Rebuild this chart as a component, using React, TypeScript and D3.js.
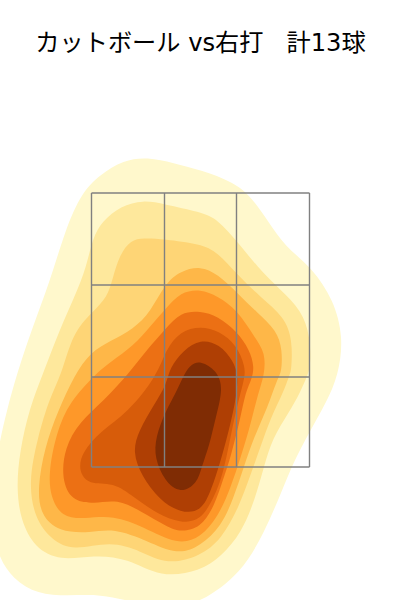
import React from "react";
import * as d3 from "d3";

// Plate-location units: x runs across the zone, y runs up from the bottom of the zone.
const titleText = "カットボール vs右打\u00a0\u00a0\u00a0計13球";
const zoneX = [0, 73, 145, 218];
const zoneY = [0, 90, 182, 274];

const levelColors = ["#fff8cc", "#fee89c", "#fed576", "#feb748", "#fe9829", "#ec7014", "#d75c0a", "#af3f04", "#7f2c04"];

const level1: [number, number][] = [[56,310],[82,304],[109,297],[142,285],[160,270],[177,245],[193,221],[221,199],[242,167],[252,130],[247,92],[235,65],[218,35],[202,5],[190,-25],[173,-65],[150,-106],[109,-136],[74,-144],[42,-135],[9,-127],[-24,-129],[-54,-127],[-78,-113],[-97,-85],[-100,-33],[-94,17],[-84,59],[-75,92],[-59,140],[-42,184],[-26,238],[-10,274],[8,292],[32,307]];
const level2: [number, number][] = [[52,267],[72,263],[109,255],[126,248],[146,225],[166,200],[189,177],[210,157],[219,130],[219,100],[216,92],[209,75],[197,54],[181,29],[172,-1],[164,-31],[150,-66],[130,-89],[109,-104],[69,-111],[36,-91],[2,-88],[-31,-94],[-57,-81],[-71,-53],[-75,-21],[-72,15],[-62,59],[-49,92],[-32,137],[-17,170],[-5,200],[1,229],[11,246],[29,261]];
const level3: [number, number][] = [[52,229],[72,228],[109,223],[126,215],[146,192],[169,170],[193,150],[201,127],[200,97],[198,92],[192,75],[179,49],[169,20],[159,-8],[147,-41],[130,-72],[109,-89],[76,-98],[49,-84],[19,-74],[-18,-84],[-40,-73],[-57,-51],[-63,-15],[-54,29],[-42,69],[-30,92],[-19,134],[1,155],[16,170],[21,188],[28,212],[39,227]];
const level4: [number, number][] = [[89,196],[109,201],[126,193],[146,174],[166,154],[185,137],[191,117],[190,94],[186,89],[176,59],[162,29],[152,-1],[142,-31],[130,-59],[109,-79],[86,-88],[56,-74],[22,-61],[-1,-66],[-33,-65],[-51,-48],[-54,-21],[-47,19],[-34,55],[-17,92],[-1,115],[19,126],[42,138],[59,155],[74,184]];
const level5: [number, number][] = [[89,175],[109,178],[126,171],[146,157],[163,130],[174,114],[173,92],[166,72],[159,42],[149,9],[139,-21],[127,-49],[109,-71],[86,-78],[52,-60],[22,-48],[-8,-52],[-30,-50],[-41,-30],[-43,-5],[-35,35],[-22,65],[4,93],[19,105],[42,121],[59,141],[74,158]];
const level6: [number, number][] = [[89,155],[109,156],[126,151],[146,135],[158,117],[163,100],[160,87],[154,75],[149,49],[139,9],[132,-11],[123,-39],[109,-61],[89,-65],[76,-60],[49,-44],[26,-32],[2,-37],[-20,-34],[-30,-12],[-27,19],[-12,45],[12,66],[37,93],[56,118],[74,138]];
const level7: [number, number][] = [[89,136],[109,141],[128,136],[145,122],[154,100],[153,88],[145,59],[138,25],[132,-5],[123,-30],[109,-54],[89,-56],[66,-47],[42,-30],[22,-15],[-3,-18],[-13,-4],[-10,14],[9,36],[36,54],[66,92],[74,117]];
const level8: [number, number][] = [[109,128],[128,123],[142,106],[147,90],[144,65],[137,35],[128,2],[120,-22],[110,-45],[89,-46],[68,-33],[50,-9],[41,15],[47,36],[63,63],[75,82],[78,99],[92,117]];
const level9: [number, number][] = [[109,106],[125,97],[132,79],[124,49],[118,22],[110,0],[106,-16],[89,-27],[73,-14],[63,9],[64,30],[74,56],[85,75],[93,94],[100,103]];

const levels = [level1, level2, level3, level4, level5, level6, level7, level8, level9];

const x = d3.scaleLinear().domain([0, 218]).range([91.5, 309.5]);
const y = d3.scaleLinear().domain([0, 274]).range([467, 193]);

const ringPath = d3
  .line<[number, number]>()
  .x((d) => x(d[0]))
  .y((d) => y(d[1]))
  .curve(d3.curveBasisClosed);

export default function App() {
  return (
    <svg
      width={400}
      height={600}
      viewBox="0 0 400 600"
      style={{ position: "fixed", left: 0, top: 0, background: "#fff" }}
    >
      {levels.map((ring, i) => (
        <path key={i} d={ringPath(ring) ?? ""} fill={levelColors[i]} stroke="none" />
      ))}
      <g stroke="#808080" strokeWidth={1.4} fill="none">
        {zoneX.map((v) => (
          <line key={`x${v}`} x1={x(v)} x2={x(v)} y1={y(274)} y2={y(0)} />
        ))}
        {zoneY.map((v) => (
          <line key={`y${v}`} x1={x(0)} x2={x(218)} y1={y(v)} y2={y(v)} />
        ))}
      </g>
      <text
        x={200.5}
        y={51}
        textAnchor="middle"
        fontFamily="'DejaVu Sans', 'Noto Sans CJK JP', sans-serif"
        fontSize={24.2}
        fill="#000"
      >
        {titleText}
      </text>
    </svg>
  );
}
